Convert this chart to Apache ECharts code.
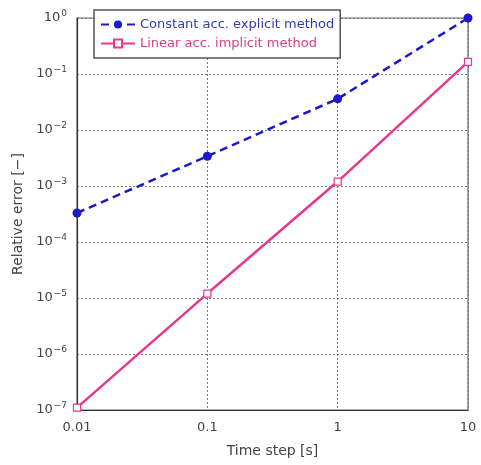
<!DOCTYPE html>
<html>
<head>
<meta charset="utf-8">
<script src="https://cdn.jsdelivr.net/npm/echarts@6/dist/echarts.min.js"></script>
<style>
  html, body { margin: 0; padding: 0; background: #fff; }
  #main { width: 481px; height: 465px; }
</style>
</head>
<body>
<div id="main"></div>
<script>
// time steps [s]
var timeSteps = [0.01, 0.1, 1, 10];
// relative error, constant acceleration explicit method
var explicitErr = [3.3e-4, 3.4e-3, 3.6e-2, 1.0];
// relative error, linear acceleration implicit method
var implicitErr = [1.1e-7, 1.2e-5, 1.2e-3, 0.165];

var FONT = '"DejaVu Sans", sans-serif';
var BLUE = '#1a1acc';
var PINK = '#e8388a';

var myChart = echarts.init(document.getElementById('main'));

function pairs(ys) {
  return timeSteps.map(function (x, i) { return [x, ys[i]]; });
}

myChart.setOption({
  animation: false,
  grid: {
    left: 77, right: 13, top: 18, bottom: 55,
    show: true, borderColor: '#666', borderWidth: 1.2
  },
  legend: {
    orient: 'vertical',
    left: 94, top: 10,
    padding: [8, 6, 8, 6],
    itemGap: 6,
    itemWidth: 34, itemHeight: 10,
    backgroundColor: '#fff',
    borderColor: '#555', borderWidth: 1.5,
    textStyle: { fontFamily: FONT, fontSize: 13 },
    data: [
      { name: 'Constant acc. explicit method', textStyle: { color: '#3a3aa8' } },
      { name: 'Linear acc. implicit method', textStyle: { color: '#d8407e' } }
    ]
  },
  xAxis: {
    type: 'log',
    logBase: 10,
    min: 0.01, max: 10,
    name: 'Time step [s]',
    nameLocation: 'middle',
    nameGap: 34,
    nameTextStyle: { fontFamily: FONT, fontSize: 14, color: '#444' },
    axisLine: { lineStyle: { color: '#333', width: 1.2 } },
    axisTick: { show: false },
    minorTick: { show: false },
    axisLabel: {
      fontFamily: FONT, fontSize: 13, color: '#444', margin: 11,
      formatter: function (v) { return String(+v.toPrecision(2)); }
    },
    splitLine: { show: true, lineStyle: { color: '#777', type: [2, 2], width: 1 } }
  },
  yAxis: {
    type: 'log',
    logBase: 10,
    min: 1e-7, max: 1,
    name: 'Relative error [\u2212]',
    nameLocation: 'middle',
    nameGap: 49,
    nameTextStyle: { fontFamily: FONT, fontSize: 14, color: '#444' },
    axisLine: { lineStyle: { color: '#333', width: 1.2 } },
    axisTick: { show: false },
    axisLabel: {
      fontFamily: FONT, color: '#444', margin: 10,
      formatter: function (v) {
        var e = Math.round(Math.log10(v));
        return '{b|10}{s|' + (e < 0 ? '\u2212' + (-e) : e) + '}';
      },
      rich: {
        b: { fontFamily: FONT, fontSize: 13, color: '#444' },
        s: { fontFamily: FONT, fontSize: 9, color: '#444', padding: [0, 0, 9, 1] }
      }
    },
    splitLine: { show: true, lineStyle: { color: '#777', type: [2, 2], width: 1 } }
  },
  series: [
    {
      name: 'Constant acc. explicit method',
      type: 'line',
      data: pairs(explicitErr),
      symbol: 'circle',
      symbolSize: 9,
      itemStyle: { color: BLUE },
      lineStyle: { color: BLUE, width: 2.5, type: [8, 5] },
      z: 3
    },
    {
      name: 'Linear acc. implicit method',
      type: 'line',
      data: pairs(implicitErr),
      symbol: 'rect',
      symbolSize: 7,
      itemStyle: { color: '#fff', borderColor: PINK, borderWidth: 1.2 },
      lineStyle: { color: PINK, width: 2.5 },
      z: 2
    }
  ]
});
</script>
</body>
</html>
